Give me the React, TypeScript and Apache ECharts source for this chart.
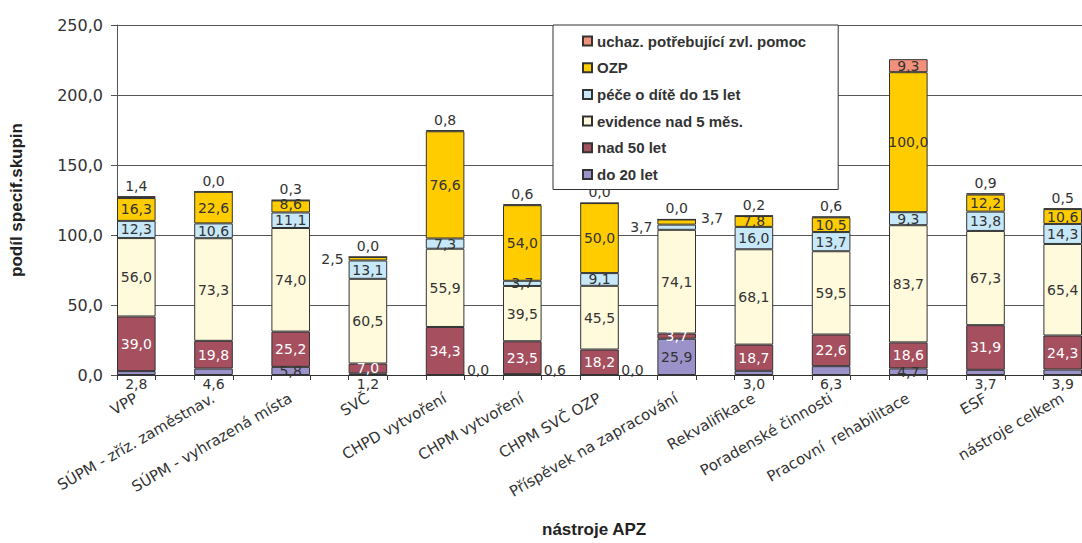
import React, { useEffect, useRef } from "react";
import * as echarts from "echarts";

const categories = [
  "VPP",
  "SÚPM - zříz. zaměstnav.",
  "SÚPM - vyhrazená místa",
  "SVČ",
  "CHPD vytvoření",
  "CHPM vytvoření",
  "CHPM SVČ OZP",
  "Příspěvek na zapracování",
  "Rekvalifikace",
  "Poradenské činnosti",
  "Pracovní  rehabilitace",
  "ESF",
  "nástroje celkem",
];

const do20 = [2.8, 4.6, 5.8, 1.2, 0.0, 0.6, 0.0, 25.9, 3.0, 6.3, 4.7, 3.7, 3.9];
const nad50 = [39.0, 19.8, 25.2, 7.0, 34.3, 23.5, 18.2, 3.7, 18.7, 22.6, 18.6, 31.9, 24.3];
const evidence = [56.0, 73.3, 74.0, 60.5, 55.9, 39.5, 45.5, 74.1, 68.1, 59.5, 83.7, 67.3, 65.4];
const pece = [12.3, 10.6, 11.1, 13.1, 7.3, 3.7, 9.1, 3.7, 16.0, 13.7, 9.3, 13.8, 14.3];
const ozp = [16.3, 22.6, 8.6, 2.5, 76.6, 54.0, 50.0, 3.7, 7.8, 10.5, 100.0, 12.2, 10.6];
const uchaz = [1.4, 0.0, 0.3, 0.0, 0.8, 0.6, 0.0, 0.0, 0.2, 0.6, 9.3, 0.9, 0.5];

const yTicks = [0, 50, 100, 150, 200, 250];

const seriesNames = {
  do20: "do 20 let",
  nad50: "nad 50 let",
  evidence: "evidence nad 5 měs.",
  pece: "péče o dítě do 15 let",
  ozp: "OZP",
  uchaz: "uchaz. potřebující zvl. pomoc",
};

const fmt = (v: number) => v.toFixed(1).replace(".", ",");

const REG = "DejaVu Sans";
const BOLD = "Liberation Sans, Arial, sans-serif";
const TXT = "#333";

// label placement overrides (index of category -> position)
const placement: Record<string, Record<number, string>> = {
  do20: { 2: "inside", 4: "right", 5: "right", 6: "right", 7: "inside", 10: "inside" },
  nad50: {},
  evidence: {},
  pece: { 7: "left" },
  ozp: { 3: "left", 7: "right" },
  uchaz: { 10: "inside" },
};
// small label nudges (index of category -> [dx, dy])
const nudges: Record<string, Record<number, number[]>> = {
  do20: { 4: [0, -5], 5: [0, -5], 6: [0, -5] },
  nad50: {},
  evidence: {},
  pece: {},
  ozp: { 2: [0, -2], 7: [0, -4] },
  uchaz: {},
};
const defaultPos: Record<string, string> = {
  do20: "bottom",
  nad50: "inside",
  evidence: "inside",
  pece: "inside",
  ozp: "inside",
  uchaz: "top",
};
const colors: Record<string, string> = {
  do20: "#9B92C9",
  nad50: "#A54F5F",
  evidence: "#FFFADC",
  pece: "#C6E8F8",
  ozp: "#FFCC00",
  uchaz: "#F2917B",
};

function labelFor(pos: string, white: boolean) {
  const base: any = {
    show: true,
    position: pos,
    formatter: (p: any) => fmt(p.value),
    fontFamily: REG,
    fontSize: 14,
    lineHeight: 13,
    color: white && pos === "inside" ? "#fff" : TXT,
  };
  if (pos === "bottom") base.distance = 2;
  if (pos === "top") base.distance = 4;
  if (pos === "left" || pos === "right") base.distance = 5;
  return base;
}

function buildSeries(key: string, values: number[]) {
  const white = key === "nad50";
  const data: any[] = [];
  values.forEach((v, i) => {
    const pos = placement[key][i] || defaultPos[key];
    const lab = labelFor(pos, white);
    if (key === "do20" && pos === "right") lab.distance = 2;
    if (nudges[key][i]) lab.offset = nudges[key][i];
    data.push({ value: v, label: lab });
    if (i < values.length - 1) data.push("-");
  });
  return {
    name: (seriesNames as any)[key],
    type: "bar",
    stack: "total",
    barWidth: "100%",
    itemStyle: { color: colors[key], borderColor: "#333", borderWidth: 1 },
    data,
  };
}

export default function App() {
  const ref = useRef<HTMLDivElement>(null);
  useEffect(() => {
    document.body.style.margin = "0";
    if (!ref.current) return;
    const chart = echarts.init(ref.current, undefined, { renderer: "svg" });
    const slots: string[] = [];
    categories.forEach((c, i) => {
      slots.push(c);
      if (i < categories.length - 1) slots.push("");
    });
    chart.setOption({
      animation: false,
      backgroundColor: "#fff",
      grid: { left: 116, top: 25, height: 350, right: 0 },
      legend: {
        orient: "vertical",
        left: 553,
        top: 25,
        padding: [8, 32, 7, 29],
        itemGap: 10.7,
        itemWidth: 9,
        itemHeight: 9,
        icon: "rect",
        backgroundColor: "#fff",
        borderColor: "#333",
        borderWidth: 1,
        borderRadius: 0,
        textStyle: { fontFamily: BOLD, fontWeight: "bold", fontSize: 15, color: TXT, lineHeight: 16 },
        data: [
          seriesNames.uchaz,
          seriesNames.ozp,
          seriesNames.pece,
          seriesNames.evidence,
          seriesNames.nad50,
          seriesNames.do20,
        ],
      },
      xAxis: {
        type: "category",
        data: slots,
        axisLine: { show: true, lineStyle: { color: "#333", width: 1 } },
        axisTick: { show: true, interval: 0, length: 5, lineStyle: { color: "#333" } },
        axisLabel: {
          interval: 0,
          rotate: 30,
          margin: 22,
          fontFamily: REG,
          fontSize: 15,
          color: TXT,
        },
        splitLine: { show: false },
      },
      yAxis: {
        type: "value",
        min: yTicks[0],
        max: yTicks[yTicks.length - 1],
        interval: 50,
        name: "podíl specif.skupin",
        nameLocation: "middle",
        nameGap: 92,
        nameTextStyle: { fontFamily: BOLD, fontWeight: "bold", fontSize: 17, color: "#222" },
        axisLine: { show: true, lineStyle: { color: "#555" } },
        axisTick: { show: true, length: 6, lineStyle: { color: "#555" } },
        axisLabel: {
          formatter: (v: number) => fmt(v),
          fontFamily: REG,
          fontSize: 16,
          color: TXT,
          margin: 14,
        },
        splitLine: { show: true, lineStyle: { color: "#555", width: 1 } },
      },
      graphic: [
        {
          type: "text",
          left: 600 - 58,
          top: 521,
          style: {
            text: "nástroje APZ",
            fontFamily: BOLD,
            fontWeight: "bold",
            fontSize: 17,
            fill: "#222",
          },
        },
      ],
      series: [
        buildSeries("do20", do20),
        buildSeries("nad50", nad50),
        buildSeries("evidence", evidence),
        buildSeries("pece", pece),
        buildSeries("ozp", ozp),
        buildSeries("uchaz", uchaz),
      ],
    });
    return () => chart.dispose();
  }, []);
  return <div ref={ref} style={{ width: 1082, height: 543 }} />;
}
